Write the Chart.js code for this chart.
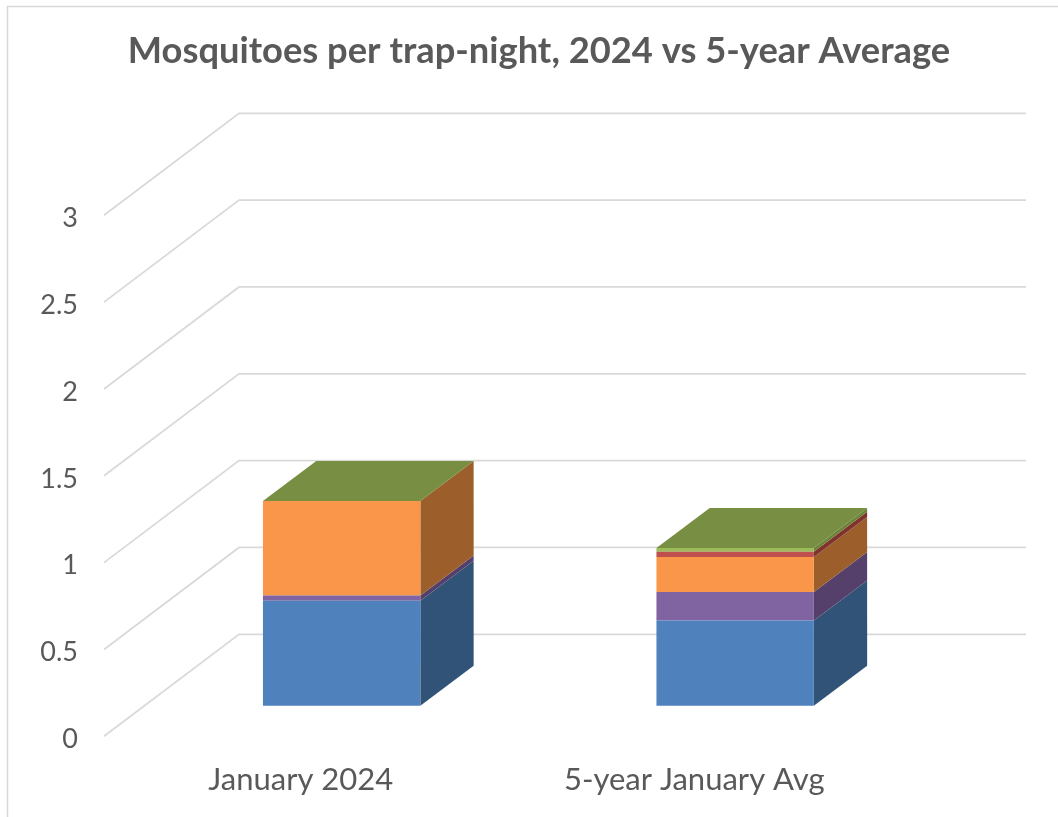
<!DOCTYPE html>
<html>
<head>
<meta charset="utf-8">
<title>Mosquitoes per trap-night</title>
<style>
  html, body { margin: 0; padding: 0; background: #ffffff; }
  canvas { display: block; }
</style>
</head>
<body>
<canvas id="myChart" width="1058" height="817"></canvas>
<script src="https://cdn.jsdelivr.net/npm/chart.js@4"></script>
<script>
//  data
const categories = ['January 2024', '5-year January Avg'];
const tickLabels = ['0', '0.5', '1', '1.5', '2', '2.5', '3'];
const titleText = 'Mosquitoes per trap-night, 2024 vs 5-year Average';

const seriesA = [0.605, 0.49];
const seriesB = [0.029, 0.164];
const seriesC = [0.545, 0.202];
const seriesD = [0, 0.031];
const seriesE = [0, 0.021];

//  front colour, side colour, top colour
const blue = ['#4f81bd', '#325378', '#3f6797'];
const purple = ['#8064a2', '#54406a', '#665082'];
const orange = ['#f9964a', '#9c5f2b', '#c77a3b'];
const red = ['#c0504d', '#80322f', '#9a403e'];
const green = ['#9bbb59', '#6b8438', '#778e43'];

//  3d look of the excel chart, in pixels
const wallX = 135, wallY = -102;
const barShiftX = 40.9, barShiftY = -30.6;
const depthX = 53.3, depthY = -40;
const gridColor = '#d9d9d9';
const textColor = '#595959';
const fontName = 'Lato, Carlito, sans-serif';

const seriesColors = [blue, purple, orange, red, green];

function face(ctx, color, points) {
    ctx.fillStyle = color;
    ctx.beginPath();
    points.forEach((p, i) => i ? ctx.lineTo(p[0], p[1]) : ctx.moveTo(p[0], p[1]));
    ctx.closePath();
    ctx.fill();
}

//  outer frame, floor and back wall lines, then the sides of the bars
const box3d = {
    id: 'box3d',
    afterLayout(chart) {
        //  the title sits in the middle of the whole picture, not of the plot
        chart.titleBlock.left = 20;
        chart.titleBlock.right = 1058;
    },
    beforeDraw(chart) {
        const ctx = chart.ctx;
        ctx.save();
        ctx.strokeStyle = gridColor;
        ctx.lineWidth = 1.5;
        ctx.strokeRect(7.5, 6.5, 1100, 900);
        ctx.restore();
    },
    beforeDatasetsDraw(chart) {
        const ctx = chart.ctx;
        const x = chart.scales.x, y = chart.scales.y;
        ctx.save();
        ctx.strokeStyle = gridColor;
        ctx.lineWidth = 1.8;
        y.ticks.forEach(t => {
            const py = y.getPixelForValue(t.value);
            ctx.beginPath();
            ctx.moveTo(x.left, py);
            ctx.lineTo(x.left + wallX, py + wallY);
            ctx.lineTo(x.right + wallX, py + wallY);
            ctx.stroke();
        });
        ctx.restore();

        //  stays shifted until afterDatasetsDraw, so the bars move with it
        ctx.save();
        ctx.translate(barShiftX, barShiftY);
        chart.data.datasets.forEach((ds, i) => {
            chart.getDatasetMeta(i).data.forEach(bar => {
                const b = bar.getProps(['x', 'y', 'base', 'width'], true);
                const r = b.x + b.width / 2;
                face(ctx, seriesColors[i][1], [
                    [r, b.y], [r + depthX, b.y + depthY],
                    [r + depthX, b.base + depthY], [r, b.base]
                ]);
            });
        });
        const last = chart.data.datasets.length - 1;
        chart.getDatasetMeta(last).data.forEach(bar => {
            const b = bar.getProps(['x', 'y', 'width'], true);
            const l = b.x - b.width / 2, r = b.x + b.width / 2;
            face(ctx, seriesColors[last][2], [
                [l, b.y], [r, b.y],
                [r + depthX, b.y + depthY], [l + depthX, b.y + depthY]
            ]);
        });
    },
    afterDatasetsDraw(chart) {
        chart.ctx.restore();
    }
};

const ctx = document.getElementById('myChart');

new Chart(ctx, {
    type: 'bar',
    plugins: [box3d],
    data: {
        labels: categories,
        datasets: [seriesA, seriesB, seriesC, seriesD, seriesE].map((values, i) => ({
            label: 'Series ' + (i + 1),
            data: values,
            backgroundColor: seriesColors[i][0],
            borderWidth: 0,
            barPercentage: 0.4,
            categoryPercentage: 1,
            clip: false
        }))
    },
    options: {
        responsive: false,
        animation: false,
        layout: { padding: { left: 0, right: 167, top: 0, bottom: 0 } },
        plugins: {
            legend: { display: false },
            tooltip: { enabled: false },
            title: {
                display: true,
                text: titleText,
                color: textColor,
                font: { family: fontName, size: 36.3, weight: 'bold', lineHeight: 1.2 },
                padding: { top: 30, bottom: 141.74 }
            }
        },
        scales: {
            x: {
                stacked: true,
                grid: { display: false },
                border: { display: false },
                afterFit(scale) { scale.height = 80.7; },
                ticks: {
                    color: textColor,
                    font: { family: fontName, size: 31 },
                    padding: 17.4,
                    maxRotation: 0
                }
            },
            y: {
                stacked: true,
                min: 0,
                max: 3,
                grid: { display: false },
                border: { display: false },
                afterFit(scale) { scale.width = 104; },
                ticks: {
                    stepSize: 0.5,
                    color: textColor,
                    font: { family: fontName, size: 27 },
                    padding: 18,
                    labelOffset: 3,
                    callback: (value, index) => tickLabels[index]
                }
            }
        }
    }
});
</script>
</body>
</html>
